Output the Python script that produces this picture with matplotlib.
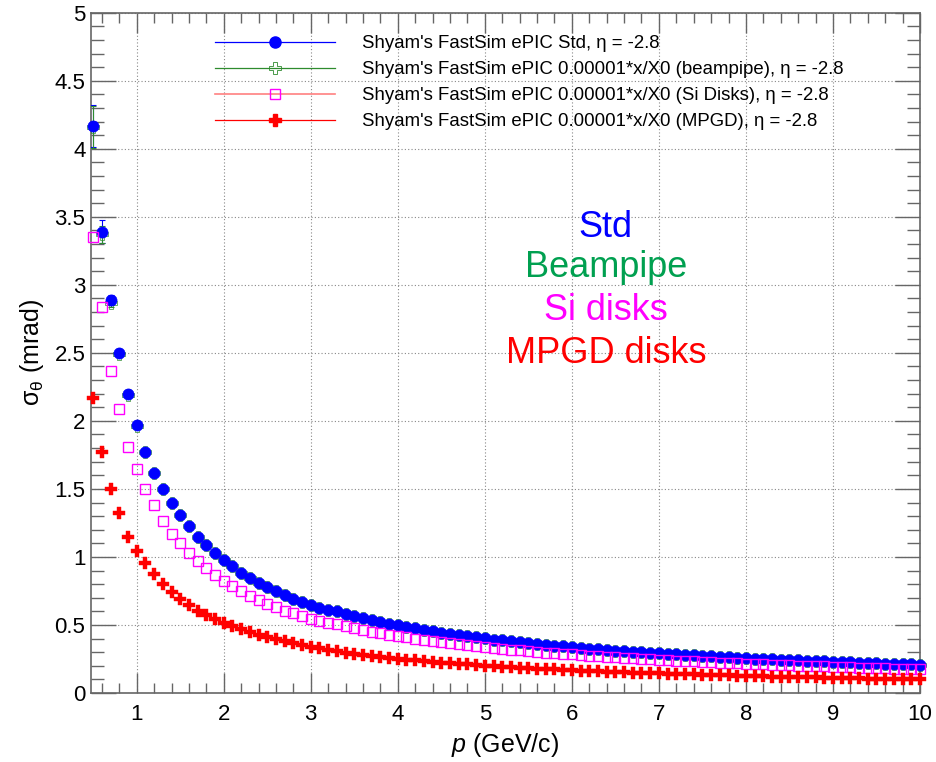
import numpy as np
import matplotlib
matplotlib.use("Agg")
import matplotlib.pyplot as plt
from matplotlib.lines import Line2D
from matplotlib.ticker import MultipleLocator, FormatStrFormatter

plt.rcParams['font.family'] = ['Liberation Sans', 'DejaVu Sans']
plt.rcParams['mathtext.fontset'] = 'custom'
plt.rcParams['mathtext.rm'] = 'Liberation Sans'
plt.rcParams['mathtext.it'] = 'Liberation Sans:italic'
plt.rcParams['mathtext.bf'] = 'Liberation Sans:bold'

# ---------------- data ----------------
p = np.round(np.arange(0.5, 10.0001, 0.1), 1)

std = [4.17, 3.39, 2.89, 2.50, 2.20, 1.97, 1.77, 1.62, 1.50, 1.40,
       1.31, 1.225, 1.15, 1.09, 1.03, 0.98, 0.93, 0.885, 0.848, 0.81,
       0.776, 0.746, 0.72, 0.692, 0.668, 0.648, 0.628, 0.61,
       0.600, 0.583, 0.566, 0.551, 0.537, 0.523, 0.510, 0.498, 0.486, 0.475,
       0.464, 0.454, 0.444, 0.435, 0.426, 0.417, 0.409, 0.401, 0.393, 0.386,
       0.379, 0.372, 0.366, 0.360, 0.354, 0.348, 0.342, 0.337, 0.332, 0.326,
       0.321, 0.317, 0.312, 0.308, 0.303, 0.299, 0.295, 0.291, 0.287, 0.283,
       0.279, 0.276, 0.272, 0.269, 0.266, 0.262, 0.259, 0.256, 0.253, 0.250,
       0.248, 0.245, 0.242, 0.239, 0.237, 0.234, 0.232, 0.229, 0.227, 0.225,
       0.223, 0.220, 0.218, 0.216, 0.214, 0.212, 0.210, 0.208]

beampipe = [4.16, 3.37, 2.87, 2.49, 2.19, 1.965, 1.77, 1.62, 1.50, 1.40,
            1.31, 1.225, 1.15, 1.09, 1.03, 0.98, 0.93, 0.885, 0.848, 0.81,
            0.776, 0.746, 0.72, 0.692, 0.668, 0.648, 0.628, 0.61,
            0.600, 0.583, 0.566, 0.551, 0.537, 0.523, 0.510, 0.498, 0.486, 0.475,
            0.464, 0.454, 0.444, 0.435, 0.426, 0.417, 0.409, 0.401, 0.393, 0.386,
            0.379, 0.372, 0.366, 0.360, 0.354, 0.348, 0.342, 0.337, 0.332, 0.326,
            0.321, 0.317, 0.312, 0.308, 0.303, 0.299, 0.295, 0.291, 0.287, 0.283,
            0.279, 0.276, 0.272, 0.269, 0.266, 0.262, 0.259, 0.256, 0.253, 0.250,
            0.248, 0.245, 0.242, 0.239, 0.237, 0.234, 0.232, 0.229, 0.227, 0.225,
            0.223, 0.220, 0.218, 0.216, 0.214, 0.212, 0.210, 0.208]

si_disks = [3.35, 2.84, 2.37, 2.09, 1.81, 1.645, 1.498, 1.382, 1.267, 1.169,
            1.10, 1.032, 0.973, 0.917, 0.868, 0.826, 0.787, 0.748, 0.715, 0.685,
            0.656, 0.630, 0.606, 0.585, 0.564, 0.547, 0.528, 0.512,
            0.504, 0.490, 0.476, 0.463, 0.451, 0.439, 0.428, 0.418, 0.408, 0.399,
            0.390, 0.381, 0.373, 0.365, 0.358, 0.351, 0.344, 0.337, 0.331, 0.325,
            0.319, 0.313, 0.308, 0.302, 0.297, 0.292, 0.288, 0.283, 0.279, 0.274,
            0.270, 0.266, 0.262, 0.258, 0.255, 0.251, 0.248, 0.244, 0.241, 0.238,
            0.235, 0.232, 0.229, 0.226, 0.223, 0.221, 0.218, 0.216, 0.213, 0.211,
            0.208, 0.206, 0.204, 0.201, 0.199, 0.197, 0.195, 0.193, 0.191, 0.189,
            0.187, 0.185, 0.184, 0.182, 0.180, 0.178, 0.177, 0.175]

mpgd = [2.17, 1.77, 1.50, 1.32, 1.15, 1.045, 0.953, 0.873, 0.80, 0.740,
        0.690, 0.647, 0.605, 0.576, 0.545, 0.518, 0.494, 0.470, 0.448, 0.429,
        0.410, 0.394, 0.379, 0.364, 0.351, 0.339, 0.328, 0.318,
        0.306, 0.297, 0.288, 0.280, 0.272, 0.265, 0.258, 0.252, 0.246, 0.240,
        0.234, 0.229, 0.224, 0.219, 0.214, 0.210, 0.206, 0.201, 0.197, 0.194,
        0.190, 0.186, 0.183, 0.180, 0.177, 0.174, 0.171, 0.168, 0.165, 0.162,
        0.160, 0.157, 0.155, 0.152, 0.150, 0.148, 0.146, 0.144, 0.142, 0.140,
        0.138, 0.136, 0.134, 0.132, 0.130, 0.129, 0.127, 0.125, 0.124, 0.122,
        0.121, 0.119, 0.118, 0.116, 0.115, 0.114, 0.112, 0.111, 0.110, 0.109,
        0.107, 0.106, 0.105, 0.104, 0.103, 0.102, 0.101, 0.100]

# errors of the first points (larger ones visible)
std_err = [0.155, 0.085, 0.035]
beampipe_err = [0.155, 0.065, 0.03]

labels = ["Shyam's FastSim ePIC Std, η = -2.8",
          "Shyam's FastSim ePIC 0.00001*x/X0 (beampipe), η = -2.8",
          "Shyam's FastSim ePIC 0.00001*x/X0 (Si Disks), η = -2.8",
          "Shyam's FastSim ePIC 0.00001*x/X0 (MPGD), η = -2.8"]
texts = ["Std", "Beampipe", "Si disks", "MPGD disks"]

c_blue = '#0000ff'
c_green = '#2e8b2e'
c_green_txt = '#00a050'
c_mag = '#ff00ff'
c_salmon = '#ff8080'
c_red = '#ff0000'

# ---------------- figure ----------------
fig = plt.figure(figsize=(9.36, 7.62), dpi=100)
ax = fig.add_axes([91/936, 69/762, 829/936, 680.3/762])

ax.set_xlim(0.475, 10.0)
ax.set_ylim(0, 5)

ax.grid(True, which='major', linestyle=(0, (1, 2)), color='#888888', linewidth=0.8)
ax.set_axisbelow(True)

# error bars for the first points
ax.errorbar(p[:len(std_err)], std[:len(std_err)], yerr=std_err, fmt='none',
            ecolor=c_blue, elinewidth=0.8, capsize=2, capthick=0.8, zorder=3)
ax.errorbar(p[:len(beampipe_err)], beampipe[:len(beampipe_err)], yerr=beampipe_err, fmt='none',
            ecolor=c_green, elinewidth=0.8, capsize=2, capthick=0.8, zorder=3)

ax.plot(p, beampipe, linestyle='none', marker='P', markersize=9.0,
        markerfacecolor='none', markeredgecolor=c_green, markeredgewidth=0.5, zorder=4, clip_on=False)
ax.plot(p, std, linestyle='none', marker='o', markersize=8.0,
        markerfacecolor=c_blue, markeredgecolor=c_blue, markeredgewidth=0.5, zorder=5, clip_on=False)
ax.plot(p, si_disks, linestyle='none', marker='s', markersize=7.8,
        markerfacecolor='none', markeredgecolor=c_mag, markeredgewidth=1.0, zorder=6, clip_on=False)
ax.plot(p, mpgd, linestyle='none', marker='P', markersize=8.4,
        markerfacecolor=c_red, markeredgecolor=c_red, markeredgewidth=0.3, zorder=7, clip_on=False)

# axes styling (ROOT-like)
ax.xaxis.set_major_locator(MultipleLocator(1))
ax.xaxis.set_minor_locator(MultipleLocator(0.2))
ax.yaxis.set_major_locator(MultipleLocator(0.5))
ax.yaxis.set_minor_locator(MultipleLocator(0.1))
ax.yaxis.set_major_formatter(FormatStrFormatter('%g'))
ax.xaxis.set_major_formatter(FormatStrFormatter('%g'))
ax.tick_params(axis='both', which='both', direction='in', top=True, right=True,
               color='#666666', labelsize=16)
ax.tick_params(axis='x', which='major', length=14.4, width=1.0, pad=8)
ax.tick_params(axis='x', which='minor', length=7.2, width=1.0)
ax.tick_params(axis='y', which='major', length=18, width=1.0, pad=4)
ax.tick_params(axis='y', which='minor', length=9.4, width=1.0)
for s in ax.spines.values():
    s.set_color('#666666')
    s.set_linewidth(1.2)

ax.set_xlabel('$p$ (GeV/c)', fontsize=18, labelpad=4)
ax.set_ylabel('σ$_{\\mathrm{θ}}$ (mrad)', fontsize=18, labelpad=6)

# legend
handles = [
    Line2D([], [], color=c_blue, lw=0.9, marker='o', markersize=8.0,
           markerfacecolor=c_blue, markeredgecolor=c_blue),
    Line2D([], [], color=c_green, lw=0.9, marker='P', markersize=9.0,
           markerfacecolor='none', markeredgecolor=c_green, markeredgewidth=0.6),
    Line2D([], [], color=c_salmon, lw=1.2, marker='s', markersize=7.8,
           markerfacecolor='none', markeredgecolor=c_mag, markeredgewidth=1.0),
    Line2D([], [], color=c_red, lw=0.9, marker='P', markersize=8.4,
           markerfacecolor=c_red, markeredgecolor=c_red),
]
fig.legend(handles, labels, loc='upper left', bbox_to_anchor=(215/936, 1 - 35/762),
           bbox_transform=fig.transFigure, frameon=False, fontsize=13.4,
           borderpad=0, borderaxespad=0, handlelength=6.45, handletextpad=1.45,
           labelspacing=0.49)

# colored annotations
txt_colors = [c_blue, c_green_txt, c_mag, c_red]
txt_y = [0.671, 0.612, 0.5485, 0.485]
for t, c, yy in zip(texts, txt_colors, txt_y):
    ax.text(0.621, yy, t, transform=ax.transAxes, color=c, fontsize=26,
            ha='center', va='baseline')

fig.savefig('out.png', dpi=100)
